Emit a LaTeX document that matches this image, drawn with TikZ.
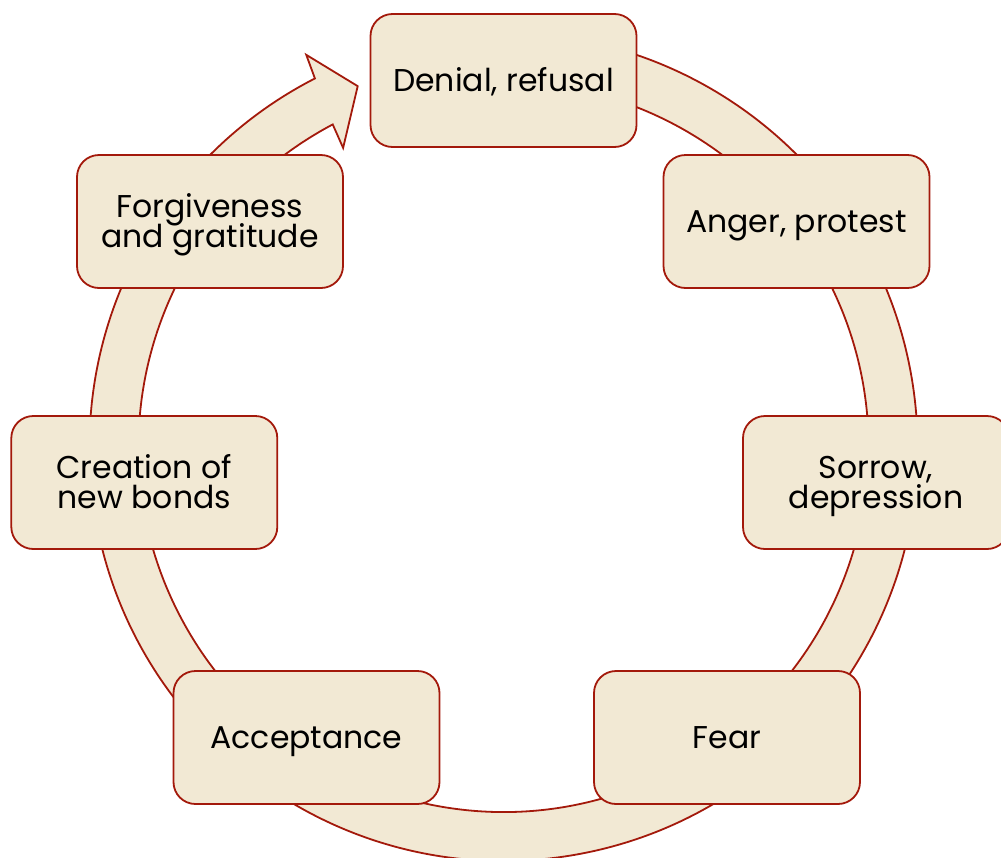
\documentclass[tikz,border=0pt]{standalone}
\usepackage{fontspec}
\setmainfont{Poppins}
\definecolor{stagefill}{HTML}{F2E9D4}
\definecolor{stageline}{HTML}{A3190B}
\begin{document}
\begin{tikzpicture}[x=1pt,y=1pt,
  band/.style={fill=stagefill,draw=stageline,line width=1.8pt,line join=miter},
  stage/.style={rectangle,rounded corners=22pt,fill=stagefill,draw=stageline,
    line width=1.8pt,minimum width=266pt,minimum height=133pt,inner sep=0pt},
  lbl/.style={font=\fontsize{31.5}{30}\selectfont,inner sep=0pt,anchor=base,text=black}]
\useasboundingbox (0,-857) rectangle (1001,0);

% centre of the cycle
\coordinate (C) at (503.5,-447);

% the circular band ending in an arrow head
\path[band]
  ([shift={(C)}]100:414pt) arc[start angle=100,end angle=-242.9,radius=414pt]
  -- ([shift={(C)}]116.7:439pt)
  -- ([shift={(C)}]112:389.2pt)
  -- ([shift={(C)}]118.2:339.4pt)
  -- ([shift={(C)}]-242.1:365pt) arc[start angle=-242.1,end angle=100,radius=365pt]
  -- cycle;

% stages of the cycle
\node[stage] (denial) at (503.5,-80.5) {};
\node[stage] (anger)  at (796.5,-221.5) {};
\node[stage] (sorrow) at (876,-482.5) {};
\node[stage] (fear)   at (727,-737.5) {};
\node[stage] (accept) at (306.5,-737.5) {};
\node[stage] (create) at (144.3,-482.5) {};
\node[stage] (forgive) at (210,-221.5) {};

% labels
\node[lbl] (denialT) at ([yshift=-11.3pt]denial.center) {Denial, refusal};
\node[lbl] (angerT)  at ([yshift=-11.3pt]anger.center) {Anger, protest};
\node[lbl] (sorrowT1) at ([yshift=3.7pt]sorrow.center) {Sorrow,};
\node[lbl] (sorrowT2) at ([yshift=-26.3pt]sorrow.center) {depression};
\node[lbl] (fearT)   at ([yshift=-11.3pt]fear.center) {Fear};
\node[lbl] (acceptT) at ([yshift=-11.3pt]accept.center) {Acceptance};
\node[lbl] (createT1) at ([yshift=3.7pt]create.center) {Creation of};
\node[lbl] (createT2) at ([yshift=-26.3pt]create.center) {new bonds};
\node[lbl] (forgiveT1) at ([yshift=3.7pt]forgive.center) {Forgiveness};
\node[lbl] (forgiveT2) at ([yshift=-26.3pt]forgive.center) {and gratitude};
\end{tikzpicture}
\end{document}
